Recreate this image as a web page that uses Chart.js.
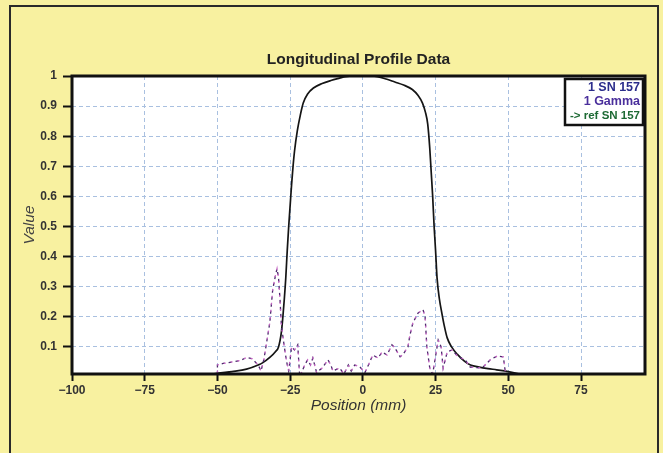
<!DOCTYPE html>
<html>
<head>
<meta charset="utf-8">
<script src="https://cdn.jsdelivr.net/npm/chart.js@4/dist/chart.umd.min.js"></script>
<style>
  html, body { margin: 0; padding: 0; width: 663px; height: 453px; overflow: hidden; background: #f8f1a0; }
  #frame { position: absolute; left: 9px; top: 5px; width: 650px; height: 470px; border: 2px solid #2a2a2a; box-sizing: border-box; }
  #wrap { position: absolute; left: 0; top: 0; width: 663px; height: 453px; }
</style>
</head>
<body>
<div id="frame"></div>
<div id="wrap"><canvas id="chart"></canvas></div>
<script>
// --- data ---
const xTicks = [-100, -75, -50, -25, 0, 25, 50, 75];
const yTicks = [0.1, 0.2, 0.3, 0.4, 0.5, 0.6, 0.7, 0.8, 0.9, 1];

// profile (1 SN 157)
const profileX = [-55, -50, -45, -40, -36, -34.5, -32, -30, -29, -28, -27.5, -27, -26.5, -26, -25.5, -25, -24.5, -24, -23.5, -22.5, -21.5, -20.5, -19, -17, -14, -11, -8, -6, -3, 0, 3, 5, 8, 11, 14, 17, 19, 20.5, 21.5, 22.3, 23, 23.5, 24, 24.5, 25, 25.5, 26.3, 27.2, 28, 29, 30.5, 32.5, 35, 37, 40, 43, 46, 50, 54, 58];
const profileY = [0.003, 0.012, 0.018, 0.026, 0.04, 0.047, 0.065, 0.085, 0.1, 0.15, 0.2, 0.26, 0.33, 0.42, 0.5, 0.57, 0.64, 0.7, 0.75, 0.82, 0.87, 0.91, 0.94, 0.96, 0.975, 0.985, 0.993, 0.998, 1.0, 1.0, 1.0, 0.998, 0.99, 0.98, 0.97, 0.955, 0.935, 0.91, 0.88, 0.84, 0.76, 0.68, 0.6, 0.5, 0.42, 0.33, 0.26, 0.21, 0.17, 0.13, 0.1, 0.075, 0.052, 0.04, 0.033, 0.028, 0.024, 0.018, 0.01, 0.004];

// gamma index (1 Gamma)
const gammaX = [-52, -50, -50, -48, -45, -42, -40, -38, -36, -35, -34, -33, -32, -31, -30, -29.5, -29, -28.5, -28, -27, -26.2, -25.5, -24.5, -23.5, -22.4, -21.7, -20, -19, -18, -17.2, -15.9, -14, -12, -11, -10.3, -8, -6.5, -5, -4, -2.8, -1, 0.7, 2.4, 3.4, 5.2, 6.6, 8.3, 10, 11, 12.8, 13.8, 15.5, 16.2, 17.2, 19, 20.7, 21.4, 22, 23, 24, 25.9, 26.9, 27.6, 29, 30.7, 32.8, 35.2, 36.9, 41, 43.8, 46.2, 48.3, 49, 50, 52];
const gammaY = [0, 0.005, 0.04, 0.045, 0.05, 0.055, 0.065, 0.06, 0.04, 0.02, 0.06, 0.12, 0.18, 0.29, 0.34, 0.36, 0.33, 0.26, 0.17, 0.1, 0.05, 0.02, 0.1, 0.09, 0.107, 0.0, 0.04, 0.057, 0.04, 0.063, 0.015, 0.03, 0.057, 0.04, 0.02, 0.03, 0.01, 0.04, 0.02, 0.04, 0.033, 0.015, 0.05, 0.073, 0.063, 0.083, 0.073, 0.107, 0.097, 0.067, 0.075, 0.1, 0.14, 0.18, 0.213, 0.223, 0.2, 0.1, 0.03, 0.01, 0.123, 0.1, 0.03, 0.083, 0.09, 0.067, 0.057, 0.033, 0.03, 0.057, 0.07, 0.067, 0.015, 0.005, 0];

const legendLabels = ['1 SN 157', '1 Gamma', '-> ref SN 157'];
const legendColors = ['#2b2d8c', '#4a2f9c', '#1d6a34'];

const toPoints = (xs, ys) => xs.map((x, i) => ({ x: x, y: ys[i] }));
const fmtX = v => v < 0 ? '\u2212' + Math.abs(v) : String(v);

// plot background, frame, title and legend box
const decor = {
  id: 'decor',
  beforeDraw(chart) {
    const { ctx, chartArea: a } = chart;
    ctx.save();
    ctx.fillStyle = '#ffffff';
    ctx.fillRect(a.left, a.top, a.right - a.left, a.bottom - a.top);
    ctx.restore();
  },
  afterDraw(chart) {
    const { ctx, chartArea: a } = chart;
    ctx.save();
    // thick frame round the plot
    ctx.strokeStyle = '#111';
    ctx.lineWidth = 3;
    ctx.strokeRect(a.left, a.top, a.right - a.left, a.bottom - a.top);

    // title
    ctx.fillStyle = '#222';
    ctx.font = 'bold 15.5px "Liberation Sans", Arial, sans-serif';
    ctx.textAlign = 'center';
    ctx.textBaseline = 'middle';
    ctx.fillText('Longitudinal Profile Data', (a.left + a.right) / 2, 60);

    // legend box
    const bx = a.right - 80, by = a.top + 3, bw = 78, bh = 46;
    ctx.fillStyle = '#fff';
    ctx.fillRect(bx, by, bw, bh);
    ctx.strokeStyle = '#111';
    ctx.lineWidth = 2.5;
    ctx.strokeRect(bx, by, bw, bh);
    ctx.textAlign = 'right';
    legendLabels.forEach((t, i) => {
      ctx.fillStyle = legendColors[i];
      ctx.font = (i === 2 ? 'bold 11.5px' : 'bold 12.5px') + ' "Liberation Sans", Arial, sans-serif';
      ctx.fillText(t, bx + bw - 3, by + 9 + i * 14);
    });
    ctx.restore();
  }
};

const axisFont = { family: '"Liberation Sans", Arial, sans-serif', size: 12, weight: 'bold' };
const titleFont = { family: '"Liberation Sans", Arial, sans-serif', size: 15.5, style: 'italic' };

new Chart(document.getElementById('chart'), {
  type: 'line',
  data: {
    datasets: [
      {
        label: 'gamma-a',
        data: toPoints(gammaX, gammaY),
        borderColor: '#c463c2',
        borderWidth: 1.3,
        borderDash: [2, 5],
        borderDashOffset: 5,
        pointRadius: 0,
        tension: 0
      },
      {
        label: 'gamma-b',
        data: toPoints(gammaX, gammaY),
        borderColor: '#4b2a6c',
        borderWidth: 1.3,
        borderDash: [3, 4],
        pointRadius: 0,
        tension: 0
      },
      {
        label: 'profile',
        data: toPoints(profileX, profileY),
        borderColor: '#151515',
        borderWidth: 1.7,
        pointRadius: 0,
        cubicInterpolationMode: 'monotone'
      }
    ]
  },
  options: {
    responsive: true,
    maintainAspectRatio: false,
    animation: false,
    layout: { padding: { left: 16, top: 76, right: 18, bottom: 34 } },
    plugins: {
      legend: { display: false },
      tooltip: { enabled: false }
    },
    scales: {
      x: {
        type: 'linear',
        min: -100,
        max: 97,
        afterBuildTicks: s => { s.ticks = xTicks.map(v => ({ value: v })); },
        afterFit: s => { s.height = 45; },
        ticks: { color: '#333', font: axisFont, padding: 2, maxRotation: 0, callback: v => fmtX(v) },
        grid: { color: '#a9c0e0', lineWidth: 1, tickColor: '#111', tickLength: 7, tickWidth: 2 },
        border: { display: false, dash: [4, 3] },
        title: { display: true, text: 'Position (mm)', color: '#333', font: titleFont }
      },
      y: {
        type: 'linear',
        min: 0.01,
        max: 1,
        afterBuildTicks: s => { s.ticks = yTicks.map(v => ({ value: v })); },
        afterFit: s => { s.width = 56; },
        ticks: { color: '#333', font: axisFont, padding: 6, callback: v => String(v) },
        grid: { color: '#a9c0e0', lineWidth: 1, tickColor: '#111', tickLength: 9, tickWidth: 2 },
        border: { display: false, dash: [4, 3] },
        title: { display: true, text: 'Value', color: '#444', font: titleFont }
      }
    }
  },
  plugins: [decor]
});
</script>
</body>
</html>
